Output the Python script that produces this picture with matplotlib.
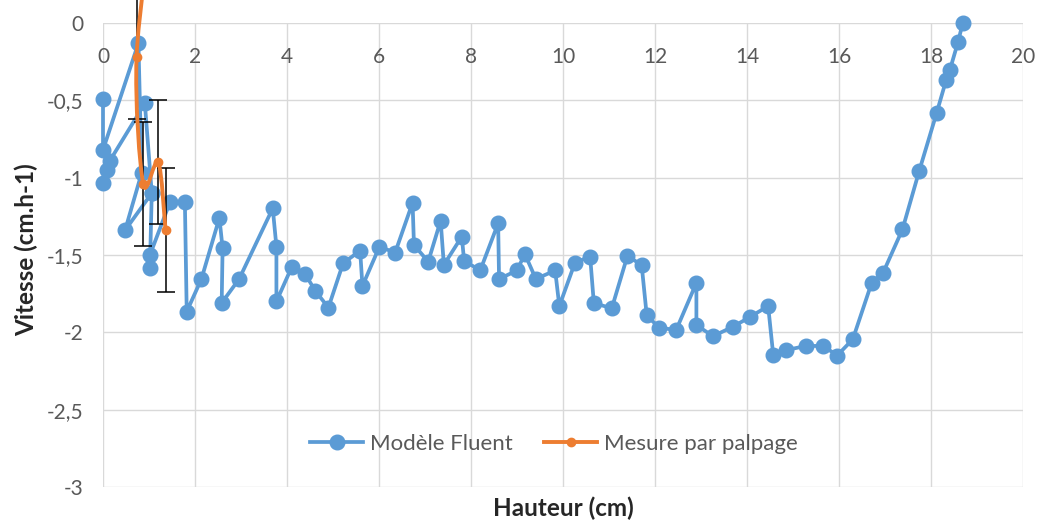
import matplotlib.pyplot as plt
import numpy as np
from matplotlib.path import Path
from matplotlib.patches import PathPatch
from matplotlib.lines import Line2D
from matplotlib.ticker import FuncFormatter

plt.rcParams['font.family'] = ['Lato', 'DejaVu Sans']

# Modèle Fluent (nan = coupure de la série)
fluent_h = [0.00, 0.08, 0.15, 0.91, 1.06, np.nan,
            0.00, 0.00, 0.77, 0.84, 0.48, 1.06, 1.02, 1.02, 1.46, 1.78, 1.82,
            2.14, 2.53, 2.60, 2.58, 2.96, 3.69, 3.77, 3.77, 4.10, 4.39, 4.61,
            4.90, 5.22, 5.59, 5.64, 6.01, 6.35, 6.73, 6.76, 7.07, 7.34, 7.41,
            7.80, 7.85, 8.20, 8.59, 8.61, 9.00, 9.17, 9.41, 9.83, 9.92, 10.26,
            10.59, 10.67, 11.06, 11.40, 11.71, 11.82, 12.09, 12.46, 12.90, 12.90,
            13.26, 13.70, 14.07, 14.46, 14.57, 14.85, 15.28, 15.66, 15.96, 16.30,
            16.71, 16.96, 17.38, 17.74, 18.12, 18.33, 18.41, 18.59, 18.69]
fluent_v = [-1.035, -0.95, -0.89, -0.52, -1.10, np.nan,
            -0.49, -0.82, -0.13, -0.97, -1.34, -1.10, -1.585, -1.50, -1.155, -1.155, -1.866,
            -1.655, -1.26, -1.456, -1.81, -1.655, -1.198, -1.446, -1.80, -1.58, -1.62, -1.73,
            -1.84, -1.553, -1.472, -1.70, -1.446, -1.485, -1.162, -1.435, -1.543, -1.278, -1.564,
            -1.381, -1.537, -1.60, -1.295, -1.655, -1.60, -1.493, -1.655, -1.60, -1.83, -1.55,
            -1.51, -1.81, -1.845, -1.506, -1.565, -1.89, -1.97, -1.985, -1.68, -1.953,
            -2.025, -1.963, -1.90, -1.83, -2.146, -2.115, -2.088, -2.088, -2.15, -2.045,
            -1.68, -1.614, -1.334, -0.96, -0.584, -0.368, -0.304, -0.12, 0.0]

# Mesure par palpage
mesure_h = [1.10, 0.73, 0.875, 1.20, 1.36]
mesure_v = [0.70, -0.22, -1.04, -0.90, -1.34]
mesure_err = [0.40, 0.40, 0.40, 0.40, 0.40]

x_ticks = [0, 2, 4, 6, 8, 10, 12, 14, 16, 18, 20]
y_ticks = [0, -0.5, -1, -1.5, -2, -2.5, -3]

blue = '#5B9BD5'
orange = '#ED7D31'
grey = '#595959'


def smooth_path(xs, ys):
    # courbe lissée façon Excel (Bézier, tension 1/6)
    pts = np.column_stack([xs, ys])
    ext = np.vstack([pts[0], pts, pts[-1]])
    verts = [pts[0]]
    codes = [Path.MOVETO]
    for i in range(1, len(ext) - 2):
        p0, p1, p2, p3 = ext[i - 1], ext[i], ext[i + 1], ext[i + 2]
        verts += [p1 + (p2 - p0) / 6, p2 - (p3 - p1) / 6, p2]
        codes += [Path.CURVE4] * 3
    return Path(verts, codes)


fig = plt.figure(figsize=(10.39, 5.21), dpi=100)
ax = fig.add_axes([103 / 1039, 1 - 487 / 521, 920 / 1039, 464 / 521])

ax.plot(fluent_h, fluent_v, color=blue, lw=2.7, marker='o', ms=10.5,
        clip_on=False, zorder=3)

ax.errorbar(mesure_h, mesure_v, yerr=mesure_err, fmt='none', ecolor='black',
            elinewidth=1.1, capsize=6.5, capthick=1.1, clip_on=False, zorder=4)
ax.add_patch(PathPatch(smooth_path(mesure_h, mesure_v), facecolor='none',
                       edgecolor=orange, lw=2.8, clip_on=False, zorder=5))
ax.plot(mesure_h, mesure_v, ls='none', marker='o', ms=6, color=orange,
        clip_on=False, zorder=6)

ax.set_xlim(0, 20)
ax.set_ylim(-3, 0)
ax.set_xticks(x_ticks)
ax.set_yticks(y_ticks)
ax.yaxis.set_major_formatter(FuncFormatter(lambda v, p: ('%g' % v).replace('.', ',')))
ax.tick_params(axis='x', bottom=False, top=False, labelbottom=False, labeltop=True,
               length=0, pad=-32, labelsize=15, labelcolor=grey)
ax.tick_params(axis='y', length=0, pad=14, labelsize=15, labelcolor=grey)
ax.grid(True, color='#D9D9D9', lw=1)
ax.set_axisbelow(True)
for s in ax.spines.values():
    s.set_visible(False)

fig.text(563 / 1039, 1 - 508 / 521, 'Hauteur (cm)', ha='center', va='center',
         fontsize=17.5, fontweight='bold', color='#262626')
fig.text(26 / 1039, 1 - 250 / 521, 'Vitesse (cm.h-1)', ha='center', va='center',
         rotation=90, fontsize=17.5, fontweight='bold', color='#262626')

handles = [Line2D([], [], color=blue, lw=2.7, marker='o', ms=10.5),
           Line2D([], [], color=orange, lw=2.8, marker='o', ms=6)]
ax.legend(handles, ['Modèle Fluent', 'Mesure par palpage'], loc='center',
          bbox_to_anchor=(0.49, 0.093), ncol=2, frameon=False, fontsize=16,
          labelcolor=grey, handlelength=2.4, handletextpad=0.3, columnspacing=1.4)

fig.savefig('out.png', dpi=100)
